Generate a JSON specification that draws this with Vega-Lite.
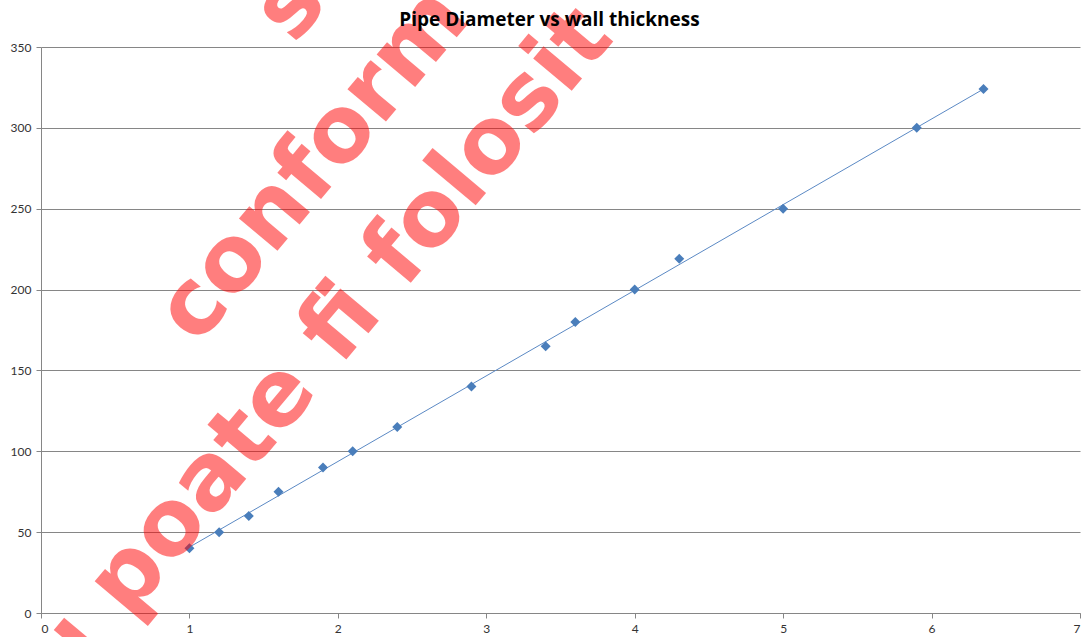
{
  "$schema": "https://vega.github.io/schema/vega-lite/v6.json",
  "width": 1039,
  "height": 566,
  "autosize": "none",
  "padding": {"left": 41, "top": 47, "right": 4, "bottom": 24},
  "background": "white",
  "title": {
    "text": "Pipe Diameter vs wall thickness",
    "font": "Open Sans",
    "fontSize": 19,
    "fontWeight": "bold",
    "color": "#000000",
    "anchor": "middle",
    "frame": "group",
    "offset": 16,
    "dx": -11,
    "dy": 90
  },
  "datasets": {
    "points": [
      {"thickness": 1.0, "diameter": 40},
      {"thickness": 1.2, "diameter": 50},
      {"thickness": 1.4, "diameter": 60},
      {"thickness": 1.6, "diameter": 75},
      {"thickness": 1.9, "diameter": 90},
      {"thickness": 2.1, "diameter": 100},
      {"thickness": 2.4, "diameter": 115},
      {"thickness": 2.9, "diameter": 140},
      {"thickness": 3.4, "diameter": 165},
      {"thickness": 3.6, "diameter": 180},
      {"thickness": 4.0, "diameter": 200},
      {"thickness": 4.3, "diameter": 219},
      {"thickness": 5.0, "diameter": 250},
      {"thickness": 5.9, "diameter": 300},
      {"thickness": 6.35, "diameter": 324}
    ],
    "watermark": [
      {"label": "s", "thickness": 1.678, "diameter": 375},
      {"label": "conform", "thickness": 1.832, "diameter": 277},
      {"label": "nu poate fi folosit", "thickness": 1.731, "diameter": 148}
    ]
  },
  "layer": [
    {
      "data": {"name": "points"},
      "transform": [{"regression": "diameter", "on": "thickness"}],
      "mark": {"type": "line", "color": "#5b89c4", "strokeWidth": 1},
      "encoding": {
        "x": {"field": "thickness", "type": "quantitative"},
        "y": {"field": "diameter", "type": "quantitative"}
      }
    },
    {
      "data": {"name": "points"},
      "mark": {"type": "point", "shape": "diamond", "filled": true, "size": 100, "color": "#4a7ebb", "opacity": 1},
      "encoding": {
        "x": {
          "field": "thickness",
          "type": "quantitative",
          "scale": {"domain": [0, 7], "nice": false, "zero": true},
          "axis": {
            "title": null,
            "values": [0, 1, 2, 3, 4, 5, 6, 7],
            "format": "d",
            "grid": false,
            "tickSize": 5,
            "tickColor": "#868686",
            "domainColor": "#868686",
            "labelFont": "Lato",
            "labelFontSize": 12,
            "labelColor": "#333333",
            "labelPadding": 5
          }
        },
        "y": {
          "field": "diameter",
          "type": "quantitative",
          "scale": {"domain": [0, 350], "nice": false},
          "axis": {
            "title": null,
            "values": [0, 50, 100, 150, 200, 250, 300, 350],
            "format": "d",
            "grid": true,
            "gridColor": "#868686",
            "tickSize": 5,
            "tickColor": "#868686",
            "domainColor": "#868686",
            "labelFont": "Lato",
            "labelFontSize": 12,
            "labelColor": "#333333",
            "labelPadding": 5
          }
        }
      }
    },
    {
      "data": {"name": "watermark"},
      "mark": {
        "type": "text",
        "font": "DejaVu Sans",
        "fontWeight": "bold",
        "fontSize": 92,
        "angle": -50,
        "align": "center",
        "baseline": "middle",
        "color": "#ff0000",
        "opacity": 0.5
      },
      "encoding": {
        "x": {"field": "thickness", "type": "quantitative"},
        "y": {"field": "diameter", "type": "quantitative"},
        "text": {"field": "label"}
      }
    }
  ],
  "config": {
    "view": {"stroke": null}
  }
}
